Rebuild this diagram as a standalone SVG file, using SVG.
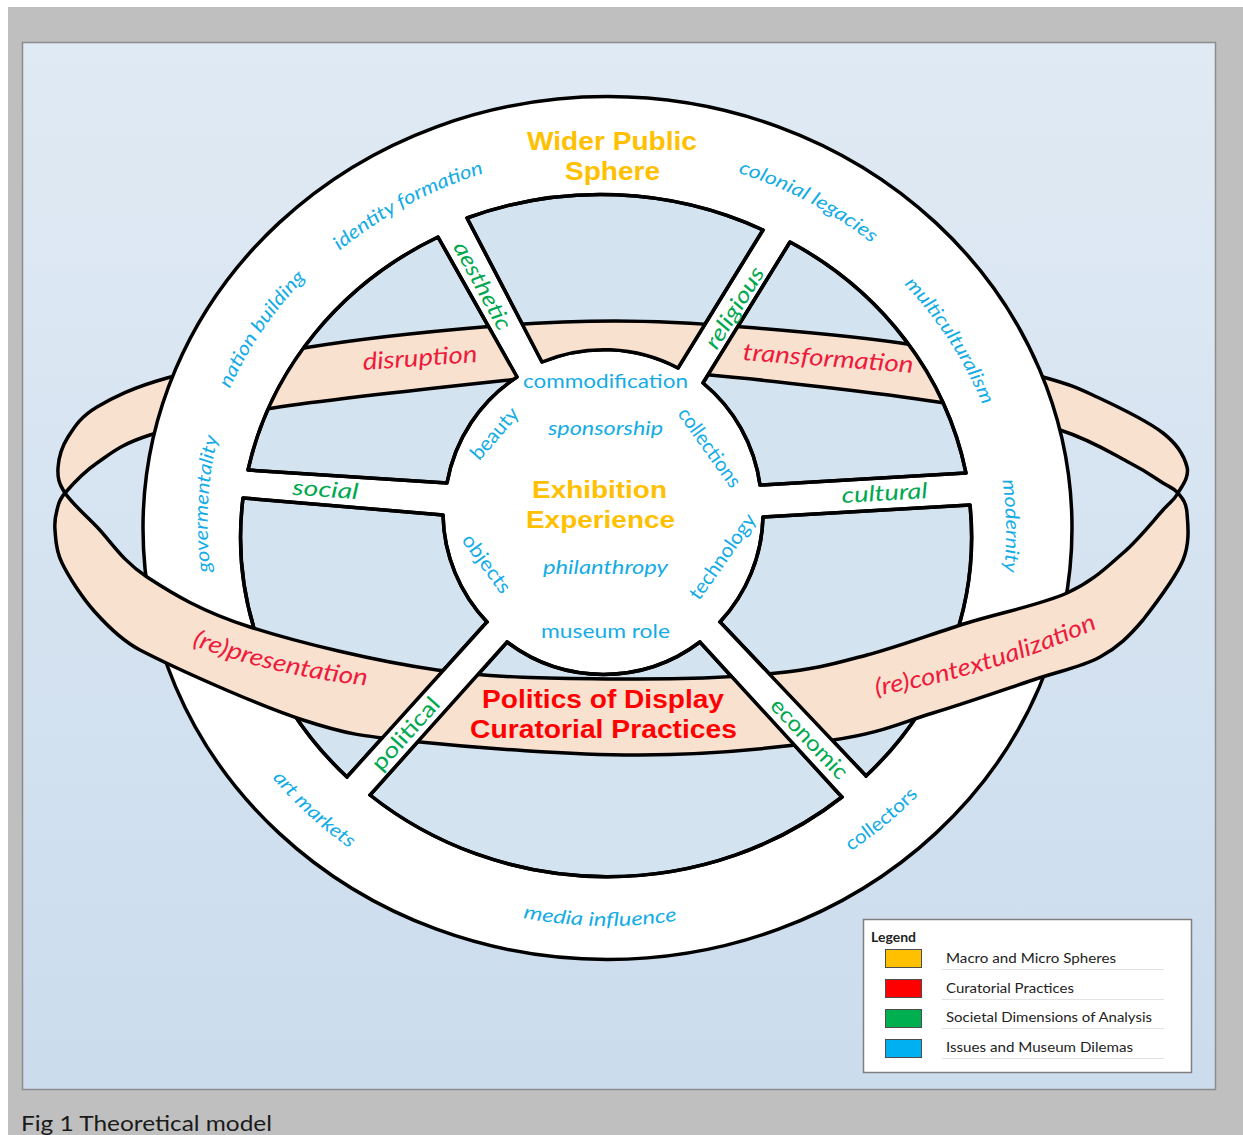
<svg xmlns="http://www.w3.org/2000/svg" width="1243" height="1135" viewBox="0 0 1243 1135">
<defs>
  <linearGradient id="panelGrad" x1="0" y1="0" x2="0" y2="1">
    <stop offset="0" stop-color="#e0eaf4"/>
    <stop offset="1" stop-color="#cbdced"/>
  </linearGradient>
  <clipPath id="cellsClip">
    <path d="M248,470 A365,340 0 0 1 438,237 L517,377 A160,160 0 0 0 447,483 Z M467,218 A365,340 0 0 1 763,230 L678,368 A160,160 0 0 0 542,362 Z M790,242 A365,340 0 0 1 966,473 L760,485 A160,160 0 0 0 703,383 Z M970,505 A365,340 0 0 1 866,776 L720,622 A160,160 0 0 0 763,517 Z M842,797 A365,340 0 0 1 370,795 L507,642 A160,160 0 0 0 700,642 Z M347,777 A365,340 0 0 1 243,498 L443,515 A160,160 0 0 0 487,622 Z"/>
  </clipPath>
  <path id="backBand" d="M65,493 C58.5,483.2 57.5,477.3 58,468 C58.5,458.7 61.5,447.2 68,437 C74.5,426.8 80.5,416.8 97,407 C113.5,397.2 131.5,388 167,378 C202.5,368 257.3,355.5 310,347 C362.7,338.5 432.2,331.3 483,327 C533.8,322.7 571.7,321 615,321 C658.3,321 693.3,323 743,327 C792.7,331 863,336.7 913,345 C963,353.3 1012.3,368.3 1043,377 C1073.7,385.7 1077,387.7 1097,397 C1117,406.3 1148,421.3 1163,433 C1178,444.7 1184.5,457 1187,467 C1189.5,477 1182,485.8 1178,493 C1174,488 1171,488 1163,483 C1155,478 1147.2,471.8 1130,463 C1112.8,454.2 1092,440.2 1060,430 C1028,419.8 996.3,411.2 938,402 C879.7,392.8 764.7,380 710,375 C655.3,370 643.3,371.2 610,372 C576.7,372.8 566.2,374 510,380 C453.8,386 333,398.8 273,408 C213,417.2 179.3,425.8 150,435 C120.7,444.2 111.2,453.3 97,463 C82.8,472.7 71.7,485.2 65,493 Z"/>
  <path id="tp1" d="M326.2,262.2 A424,424 0 0 1 500.8,168.4"/>
  <path id="tp2" d="M714.8,166.2 A424,424 0 0 1 890.2,258.6"/>
  <path id="tp3" d="M217.8,418.9 A383,383 0 0 1 329.6,255.7"/>
  <path id="tp4" d="M216.7,603.3 A360,360 0 0 1 226.9,406.1"/>
  <path id="tp5" d="M884.1,265.2 A382,382 0 0 1 992.1,431"/>
  <path id="tp6" d="M990.5,427.5 A360,360 0 0 1 993.9,624.9"/>
  <path id="tp7" d="M243.8,739.8 A402,402 0 0 0 390.2,873.2"/>
  <path id="tp8" d="M501,913.2 A446,446 0 0 0 699.4,916.4"/>
  <path id="tp9" d="M801.9,878.7 A407,407 0 0 0 954.5,752.5"/>
  <path id="tp10" d="M164,634.1 A700,700 0 0 0 396.6,687.9"/>
  <path id="tp11" d="M852.5,699.3 A900,900 0 0 0 1119.1,617.9"/>
</defs>
<style>
  .ln{stroke:#000;stroke-width:3.5;stroke-linejoin:round;stroke-linecap:round}
  .cell{fill:#d4e3f0}
  .band{fill:#f9e1cf}
  .t{font-family:Lato,'Open Sans','DejaVu Sans',sans-serif}
  .b{font-family:'Liberation Sans',Arial,sans-serif;font-weight:bold}
  .blue{fill:#14ace6}
  .green{fill:#00a84f}
  .red{fill:#ee1b3d}
  .rb{fill:#ff0000}
  .gold{fill:#ffc000}
  .it{font-style:italic}
</style>

<rect x="0" y="0" width="1243" height="1135" fill="#ffffff"/>
<rect x="8" y="7" width="1235" height="1128" fill="#bfbfbf"/>
<rect x="22.5" y="42.5" width="1193" height="1047" fill="url(#panelGrad)" stroke="#8c8c8c" stroke-width="1.5"/>

<g id="band-back">
  <use href="#backBand" class="band ln"/>
</g>

<g id="wider-public-sphere">
  <ellipse cx="607.5" cy="528" rx="464.5" ry="431.5" fill="#ffffff" class="ln"/>
</g>

<g id="cells">
  <path class="cell ln" d="M248,470 A365,340 0 0 1 438,237 L517,377 A160,160 0 0 0 447,483 Z"/>
  <path class="cell ln" d="M467,218 A365,340 0 0 1 763,230 L678,368 A160,160 0 0 0 542,362 Z"/>
  <path class="cell ln" d="M790,242 A365,340 0 0 1 966,473 L760,485 A160,160 0 0 0 703,383 Z"/>
  <path class="cell ln" d="M970,505 A365,340 0 0 1 866,776 L720,622 A160,160 0 0 0 763,517 Z"/>
  <path class="cell ln" d="M842,797 A365,340 0 0 1 370,795 L507,642 A160,160 0 0 0 700,642 Z"/>
  <path class="cell ln" d="M347,777 A365,340 0 0 1 243,498 L443,515 A160,160 0 0 0 487,622 Z"/>
</g>

<g id="band-back-inside" clip-path="url(#cellsClip)">
  <use href="#backBand" class="band ln"/>
</g>

<g id="cell-outlines" fill="none">
  <path class="ln" d="M248,470 A365,340 0 0 1 438,237 L517,377 A160,160 0 0 0 447,483 Z M467,218 A365,340 0 0 1 763,230 L678,368 A160,160 0 0 0 542,362 Z M790,242 A365,340 0 0 1 966,473 L760,485 A160,160 0 0 0 703,383 Z M970,505 A365,340 0 0 1 866,776 L720,622 A160,160 0 0 0 763,517 Z M842,797 A365,340 0 0 1 370,795 L507,642 A160,160 0 0 0 700,642 Z M347,777 A365,340 0 0 1 243,498 L443,515 A160,160 0 0 0 487,622 Z"/>
</g>

<g id="band-front">
  <path class="band ln" d="M65,493 C71.5,502.8 83.3,513 97,527 C110.7,541 121.5,560.3 147,577 C172.5,593.7 201.7,611.5 250,627 C298.3,642.5 375.3,661.3 437,670 C498.7,678.7 563.3,678.5 620,679 C676.7,679.5 735.8,677 777,673 C818.2,669 835.3,663.3 867,655 C898.7,646.7 933.7,633.3 967,623 C1000.3,612.7 1041,604.7 1067,593 C1093,581.3 1107,566.8 1123,553 C1139,539.2 1153.8,520 1163,510 C1172.2,500 1174,500.2 1178,493 C1182,498 1186.2,501.8 1187,513 C1187.8,524.2 1190.3,542.2 1183,560 C1175.7,577.8 1156.8,602.2 1143,620 C1129.2,636.2 1118.3,647 1100,657 C1081.7,667 1060.8,670.7 1033,680 C1005.2,689.3 966.3,703 933,713 C899.7,723 881.8,733 833,740 C784.2,747 708.8,754.7 640,755 C571.2,755.3 476.2,747.8 420,742 C363.8,736.2 349.7,735.3 303,720 C256.3,704.7 174.7,668 140,650 C122.5,640.9 108,626.5 95,612 C82,597.5 68.7,576.7 62,563 C55.3,549.3 55.8,538.8 55,530 C54.2,521.2 55.3,516.2 57,510 C58.7,503.8 58.3,500.8 65,493 Z"/>
</g>

<g id="connectors">
  <g id="spoke-political">
    <polygon points="487,622 507,642 370,795 347,777" fill="#ffffff"/>
    <path class="ln" d="M487,622 L347,777 M507,642 L370,795"/>
  </g>
  <g id="spoke-economic">
    <polygon points="720,622 700,642 842,797 866,776" fill="#ffffff"/>
    <path class="ln" d="M720,622 L866,776 M700,642 L842,797"/>
  </g>
</g>

<g id="labels-outer" class="t blue" font-size="19" text-anchor="middle">
  <text class="it"><textPath href="#tp1" startOffset="50%" textLength="165" lengthAdjust="spacingAndGlyphs">identity formation</textPath></text>
  <text class="it"><textPath href="#tp2" startOffset="50%" textLength="152" lengthAdjust="spacingAndGlyphs">colonial legacies</textPath></text>
  <text class="it"><textPath href="#tp3" startOffset="50%" textLength="135" lengthAdjust="spacingAndGlyphs">nation building</textPath></text>
  <text class="it"><textPath href="#tp4" startOffset="50%" textLength="136" lengthAdjust="spacingAndGlyphs">govermentality</textPath></text>
  <text class="it"><textPath href="#tp5" startOffset="50%" textLength="145" lengthAdjust="spacingAndGlyphs">multiculturalism</textPath></text>
  <text class="it"><textPath href="#tp6" startOffset="50%" textLength="92" lengthAdjust="spacingAndGlyphs">modernity</textPath></text>
  <text class="it"><textPath href="#tp7" startOffset="50%" textLength="105" lengthAdjust="spacingAndGlyphs">art markets</textPath></text>
  <text class="it"><textPath href="#tp8" startOffset="50%" textLength="155" lengthAdjust="spacingAndGlyphs">media influence</textPath></text>
  <text><textPath href="#tp9" startOffset="50%" textLength="88" lengthAdjust="spacingAndGlyphs">collectors</textPath></text>
</g>

<g id="label-wider" class="b gold" font-size="25" text-anchor="middle">
  <text x="612" y="150" textLength="170" lengthAdjust="spacingAndGlyphs">Wider Public</text>
  <text x="612.5" y="180" textLength="95" lengthAdjust="spacingAndGlyphs">Sphere</text>
</g>

<g id="labels-center" class="t blue" font-size="20" text-anchor="middle">
  <text x="605.5" y="388" textLength="165" lengthAdjust="spacingAndGlyphs">commodification</text>
  <text class="it" x="605.5" y="435" textLength="115" lengthAdjust="spacingAndGlyphs">sponsorship</text>
  <text class="it" x="605.5" y="574" textLength="125" lengthAdjust="spacingAndGlyphs">philanthropy</text>
  <text x="605.5" y="638" textLength="129" lengthAdjust="spacingAndGlyphs">museum role</text>
  <text transform="translate(495,434) rotate(-49)" y="6" textLength="62" lengthAdjust="spacingAndGlyphs">beauty</text>
  <text transform="translate(709,448) rotate(54.4)" y="6" textLength="93" lengthAdjust="spacingAndGlyphs">collections</text>
  <text transform="translate(486,564) rotate(53.5)" y="6" textLength="68" lengthAdjust="spacingAndGlyphs">objects</text>
  <text transform="translate(723,557) rotate(-54.8)" y="6" textLength="100" lengthAdjust="spacingAndGlyphs">technology</text>
</g>

<g id="label-exhibition" class="b gold" font-size="23" text-anchor="middle">
  <text x="599.5" y="498" textLength="135" lengthAdjust="spacingAndGlyphs">Exhibition</text>
  <text x="600.5" y="528" textLength="149" lengthAdjust="spacingAndGlyphs">Experience</text>
</g>

<g id="labels-dimensions" class="t green" font-size="22" text-anchor="middle">
  <text class="it" transform="translate(482,286) rotate(61.5)" y="7" textLength="97" lengthAdjust="spacingAndGlyphs">aesthetic</text>
  <text class="it" transform="translate(735,308) rotate(-58)" y="7" textLength="92" lengthAdjust="spacingAndGlyphs">religious</text>
  <text class="it" transform="translate(325,497) rotate(4)" textLength="66" lengthAdjust="spacingAndGlyphs">social</text>
  <text class="it" transform="translate(885,500.5) rotate(-3.3)" textLength="86" lengthAdjust="spacingAndGlyphs">cultural</text>
  <text transform="translate(406,734) rotate(-48)" y="7" textLength="90" lengthAdjust="spacingAndGlyphs">political</text>
  <text transform="translate(809,739) rotate(46.7)" y="7" textLength="102" lengthAdjust="spacingAndGlyphs">economic</text>
</g>

<g id="labels-practices" class="t red it" font-size="24" text-anchor="middle">
  <text transform="translate(420.5,366) rotate(-4)" textLength="115" lengthAdjust="spacingAndGlyphs">disruption</text>
  <text transform="translate(827.5,366.5) rotate(4.3)" textLength="171" lengthAdjust="spacingAndGlyphs">transformation</text>
  <text><textPath href="#tp10" startOffset="50%" textLength="180" lengthAdjust="spacingAndGlyphs">(re)presentation</textPath></text>
  <text><textPath href="#tp11" startOffset="50%" textLength="232" lengthAdjust="spacingAndGlyphs">(re)contextualization</textPath></text>
</g>

<g id="label-politics" class="b rb" font-size="25" text-anchor="middle">
  <text x="603" y="708" textLength="242" lengthAdjust="spacingAndGlyphs">Politics of Display</text>
  <text x="603.5" y="738" textLength="267" lengthAdjust="spacingAndGlyphs">Curatorial Practices</text>
</g>

<g id="legend">
  <rect x="863.5" y="919.5" width="328" height="153" fill="#ffffff" stroke="#7f7f7f" stroke-width="1.5"/>
  <text class="t" x="871" y="942" font-size="14" font-weight="bold" fill="#222">Legend</text>
  <g stroke="#e2e2e2" stroke-width="1">
    <line x1="942" y1="969.5" x2="1164" y2="969.5"/>
    <line x1="942" y1="999.5" x2="1164" y2="999.5"/>
    <line x1="942" y1="1028.5" x2="1164" y2="1028.5"/>
    <line x1="942" y1="1058.5" x2="1164" y2="1058.5"/>
  </g>
  <g stroke="#4d4d4d" stroke-width="1">
    <rect x="885.5" y="949.5" width="36" height="18" fill="#ffc000"/>
    <rect x="885.5" y="979.5" width="36" height="18" fill="#ff0000"/>
    <rect x="885.5" y="1009.5" width="36" height="18" fill="#00b050"/>
    <rect x="885.5" y="1039.5" width="36" height="18" fill="#00b0f0"/>
  </g>
  <g class="t" font-size="13.5" fill="#222">
    <text x="946" y="963" textLength="170" lengthAdjust="spacingAndGlyphs">Macro and Micro Spheres</text>
    <text x="946" y="993" textLength="128" lengthAdjust="spacingAndGlyphs">Curatorial Practices</text>
    <text x="946" y="1022" textLength="206" lengthAdjust="spacingAndGlyphs">Societal Dimensions of Analysis</text>
    <text x="946" y="1052" textLength="187" lengthAdjust="spacingAndGlyphs">Issues and Museum Dilemas</text>
  </g>
</g>

<text class="t" x="21" y="1131" font-size="22" fill="#1a1a1a" textLength="251" lengthAdjust="spacingAndGlyphs">Fig 1 Theoretical model</text>
</svg>
